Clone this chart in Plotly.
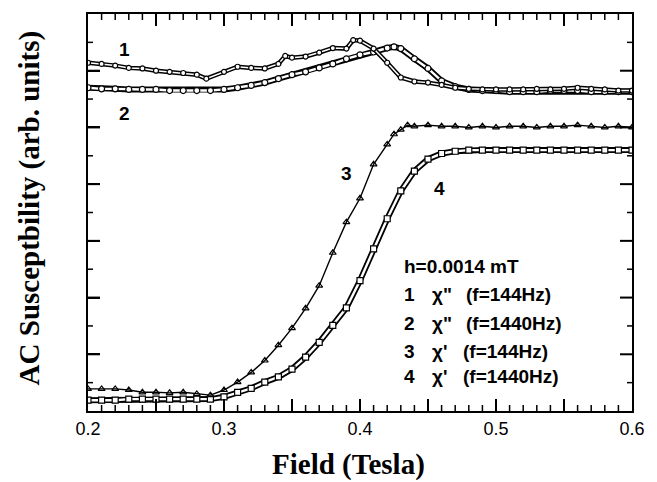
import plotly.graph_objects as go

# ---- data (field in Tesla, susceptibility in arb. units) ----
field_1 = [0.20, 0.21, 0.22, 0.23, 0.24, 0.25, 0.26, 0.27, 0.28, 0.287, 0.30, 0.31, 0.32, 0.33,
           0.34, 0.345, 0.35, 0.36, 0.37, 0.38, 0.39, 0.395, 0.40, 0.41, 0.42, 0.43, 0.44, 0.45,
           0.46, 0.47, 0.48, 0.49, 0.50, 0.51, 0.52, 0.53, 0.54, 0.55, 0.56, 0.57, 0.58, 0.59, 0.60]
chi2_144 = [6.14, 6.12, 6.09, 6.05, 6.04, 6.00, 5.98, 5.96, 5.93, 5.86, 5.98, 6.07, 6.05, 6.04,
            6.12, 6.26, 6.23, 6.25, 6.32, 6.40, 6.39, 6.54, 6.53, 6.39, 6.14, 5.88, 5.81, 5.79,
            5.75, 5.70, 5.68, 5.67, 5.67, 5.67, 5.67, 5.68, 5.67, 5.68, 5.70, 5.68, 5.67, 5.65, 5.65]

field_2 = [0.20, 0.21, 0.22, 0.23, 0.24, 0.25, 0.26, 0.27, 0.28, 0.29, 0.30, 0.31, 0.32, 0.33,
           0.34, 0.35, 0.36, 0.37, 0.38, 0.39, 0.40, 0.41, 0.42, 0.425, 0.43, 0.44, 0.45, 0.46,
           0.47, 0.48, 0.49, 0.50, 0.51, 0.52, 0.53, 0.54, 0.55, 0.56, 0.57, 0.58, 0.59, 0.60]
chi2_1440 = [5.70, 5.68, 5.68, 5.67, 5.67, 5.67, 5.65, 5.65, 5.65, 5.65, 5.67, 5.70, 5.74, 5.79,
             5.86, 5.93, 5.98, 6.05, 6.12, 6.21, 6.28, 6.33, 6.40, 6.42, 6.39, 6.21, 6.04, 5.82,
             5.72, 5.67, 5.65, 5.65, 5.63, 5.63, 5.63, 5.65, 5.65, 5.65, 5.63, 5.63, 5.63, 5.63]

field_3 = [0.20, 0.21, 0.22, 0.23, 0.24, 0.25, 0.26, 0.27, 0.28, 0.29, 0.30, 0.31, 0.32, 0.33,
           0.34, 0.35, 0.36, 0.37, 0.38, 0.39, 0.40, 0.41, 0.42, 0.425, 0.43, 0.435, 0.44, 0.45,
           0.46, 0.47, 0.48, 0.49, 0.50, 0.51, 0.52, 0.53, 0.54, 0.55, 0.56, 0.57, 0.58, 0.59, 0.60]
chi1_144 = [0.39, 0.39, 0.39, 0.37, 0.33, 0.33, 0.32, 0.33, 0.30, 0.28, 0.37, 0.51, 0.68, 0.89,
            1.16, 1.46, 1.81, 2.21, 2.79, 3.33, 3.75, 4.35, 4.70, 4.88, 4.96, 5.04, 5.02, 5.04,
            5.02, 5.02, 5.00, 5.02, 5.00, 5.02, 5.02, 5.00, 5.02, 5.02, 5.04, 5.02, 5.00, 5.02, 5.00]

field_4 = [0.20, 0.21, 0.22, 0.23, 0.24, 0.25, 0.26, 0.27, 0.28, 0.29, 0.30, 0.31, 0.32, 0.33,
           0.34, 0.35, 0.36, 0.37, 0.38, 0.39, 0.40, 0.41, 0.42, 0.43, 0.44, 0.45, 0.46, 0.47,
           0.48, 0.49, 0.50, 0.51, 0.52, 0.53, 0.54, 0.55, 0.56, 0.57, 0.58, 0.59, 0.60]
chi1_1440 = [0.19, 0.19, 0.19, 0.21, 0.21, 0.21, 0.21, 0.21, 0.21, 0.21, 0.25, 0.33, 0.40, 0.51,
             0.60, 0.74, 0.95, 1.21, 1.51, 1.82, 2.30, 2.86, 3.39, 3.88, 4.23, 4.44, 4.54, 4.58,
             4.60, 4.60, 4.60, 4.60, 4.60, 4.60, 4.60, 4.60, 4.60, 4.60, 4.60, 4.60, 4.60]

# tick labels: major ticks every 0.05 T, labels only every 0.1 T
x_label_alias = {"0.25": "", "0.35": "", "0.45": "", "0.55": ""}

curve_labels = ["1", "2", "3", "4"]
legend_title = "h=0.0014 mT"
legend_nums = ["1", "2", "3", "4"]
legend_chi = ['χ"', 'χ"', "χ'", "χ'"]
legend_freq = ["(f=144Hz)", "(f=1440Hz)", "(f=144Hz)", "(f=1440Hz)"]

fig = go.Figure()

def tube(x, y, outer, inner, symbol, msize):
    fig.add_trace(go.Scatter(x=x, y=y, mode="lines", line=dict(color="black", width=outer),
                             showlegend=False, hoverinfo="skip"))
    fig.add_trace(go.Scatter(x=x, y=y, mode="lines+markers", line=dict(color="white", width=inner),
                             marker=dict(symbol=symbol, size=msize, color="white",
                                         line=dict(width=1.2, color="black")),
                             showlegend=False, hoverinfo="skip"))

tube(field_2, chi2_1440, 6, 2.4, "circle", 6)
tube(field_1, chi2_144, 4.5, 1.5, "circle", 5)
tube(field_4, chi1_1440, 6, 2.4, "square", 6)
fig.add_trace(go.Scatter(x=field_3, y=chi1_144, mode="lines+markers",
                         line=dict(color="black", width=1.4),
                         marker=dict(symbol="triangle-up-open", size=6, color="black",
                                     line=dict(width=1.2, color="black")),
                         showlegend=False))

num_font = dict(family="Liberation Sans, Arial", size=19, color="black")
ann = []
label_pos = [(0.2272, 6.37), (0.2272, 5.25), (0.390, 4.18), (0.4583, 3.93)]
for t, (lx, ly) in zip(curve_labels, label_pos):
    ann.append(dict(x=lx, y=ly, xref="x", yref="y", text="<b>%s</b>" % t, showarrow=False,
                    font=num_font, xanchor="center", yanchor="middle"))

ann.append(dict(x=0.4312, y=2.54, xref="x", yref="y", text="<b>%s</b>" % legend_title,
                showarrow=False, font=num_font, xanchor="left", yanchor="middle"))
rows_y = [2.05, 1.54, 1.05, 0.60]
freq_x = [0.4767, 0.4767, 0.4745, 0.4745]
for i in range(4):
    ann.append(dict(x=0.4312, y=rows_y[i], xref="x", yref="y", text="<b>%s</b>" % legend_nums[i],
                    showarrow=False, font=num_font, xanchor="left", yanchor="middle"))
    ann.append(dict(x=0.4517, y=rows_y[i], xref="x", yref="y", text="<b>%s</b>" % legend_chi[i],
                    showarrow=False, font=num_font, xanchor="left", yanchor="middle"))
    ann.append(dict(x=freq_x[i], y=rows_y[i], xref="x", yref="y", text="<b>%s</b>" % legend_freq[i],
                    showarrow=False, font=num_font, xanchor="left", yanchor="middle"))

title_font = dict(family="Liberation Serif, Times New Roman", size=29, color="black")
ann.append(dict(x=0.479, y=-0.135, xref="paper", yref="paper", text="<b>Field (Tesla)</b>",
                showarrow=False, font=title_font, xanchor="center", yanchor="middle"))
ann.append(dict(x=-0.108, y=0.511, xref="paper", yref="paper",
                text="<b>AC Susceptbility (arb. units)</b>", textangle=-90,
                showarrow=False, font=title_font, xanchor="center", yanchor="middle"))

# inward tick marks on all four sides (axis decoration, placed along the axis scales)
shapes = []
for i in range(1, 40):
    xv = round(0.2 + i * 0.01, 3)
    major = (i % 5 == 0)
    L = 12 if major else 6
    w = 2 if major else 1.5
    for anchor, sign in ((0, 1), (1, -1)):
        shapes.append(dict(type="line", xref="x", yref="paper", x0=xv, x1=xv,
                           ysizemode="pixel", yanchor=anchor, y0=0, y1=sign * L,
                           line=dict(color="black", width=w), layer="above"))
for j in range(1, 14):
    yv = j * 0.5
    major = (j % 2 == 0)
    L = 12 if major else 5
    w = 2 if major else 1.5
    for anchor, sign in ((0, 1), (1, -1)):
        shapes.append(dict(type="line", yref="y", xref="paper", y0=yv, y1=yv,
                           xsizemode="pixel", xanchor=anchor, x0=0, x1=sign * L,
                           line=dict(color="black", width=w), layer="above"))

fig.update_layout(
    width=657, height=482,
    margin=dict(l=88, r=24, t=12, b=71),
    paper_bgcolor="white", plot_bgcolor="white",
    annotations=ann,
    shapes=shapes,
    xaxis=dict(range=[0.2, 0.6], tick0=0.2, dtick=0.05, labelalias=x_label_alias,
               ticks="inside", ticklen=12, tickwidth=2, tickcolor="#000000",
               showline=True, linecolor="black", linewidth=2, mirror=True,
               showgrid=False, zeroline=False,
               tickfont=dict(family="Liberation Sans, Arial", size=18, color="black")),
    yaxis=dict(range=[0, 7], tick0=0, dtick=1, showticklabels=False,
               ticks="inside", ticklen=12, tickwidth=2, tickcolor="#000000",
               showline=True, linecolor="black", linewidth=2, mirror=True,
               showgrid=False, zeroline=False),
)

fig.write_html("out.html")
